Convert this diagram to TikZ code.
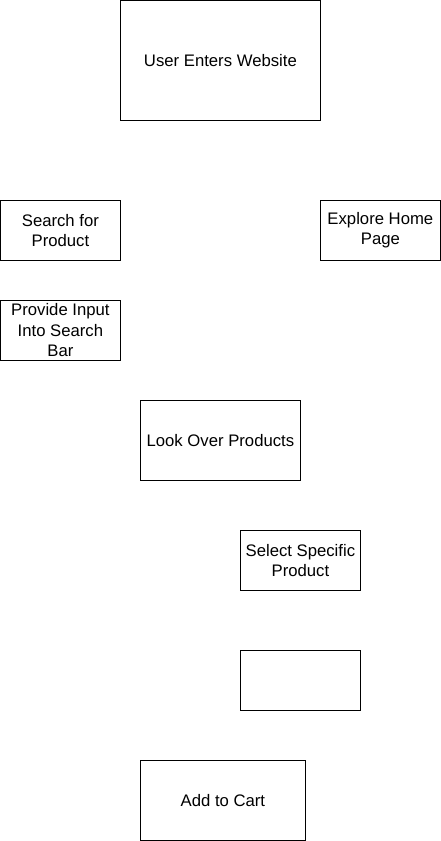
\documentclass[tikz,border=0pt]{standalone}
\usepackage{fontspec}
\setmainfont{Liberation Sans}
\usepackage{tikz}

\tikzset{
	flowbox/.style={draw, rectangle, line width=0.9pt, inner sep=0pt, align=center,
		font=\fontsize{16.7pt}{20.5pt}\selectfont},
	smallbox/.style={flowbox, minimum width=120pt, minimum height=60pt},
}

\begin{document}
\begin{tikzpicture}[x=1pt, y=-1pt]
	\useasboundingbox (0,0) rectangle (441,841);
	
	\node[flowbox, minimum width=200pt, minimum height=120pt] (enter) at (220.4,60.3) {User Enters Website};
	
	\node[smallbox] (search) at (60.4,230.3) {Search for\\Product};
	\node[smallbox] (explore) at (380.4,230.3) {Explore Home\\Page};
	\node[smallbox] (input) at (60.4,330.3) {Provide Input\\Into Search\\Bar};
	
	\node[flowbox, minimum width=160pt, minimum height=80pt] (lookover) at (220.4,440.3) {Look Over Products};
	
	\node[smallbox] (select) at (300.4,560.3) {Select Specific\\Product};
	\node[smallbox] (blank) at (300.4,680.3) {};
	
	\node[flowbox, minimum width=165pt, minimum height=80pt] (cart) at (222.9,800.3) {Add to Cart};
\end{tikzpicture}
\end{document}
